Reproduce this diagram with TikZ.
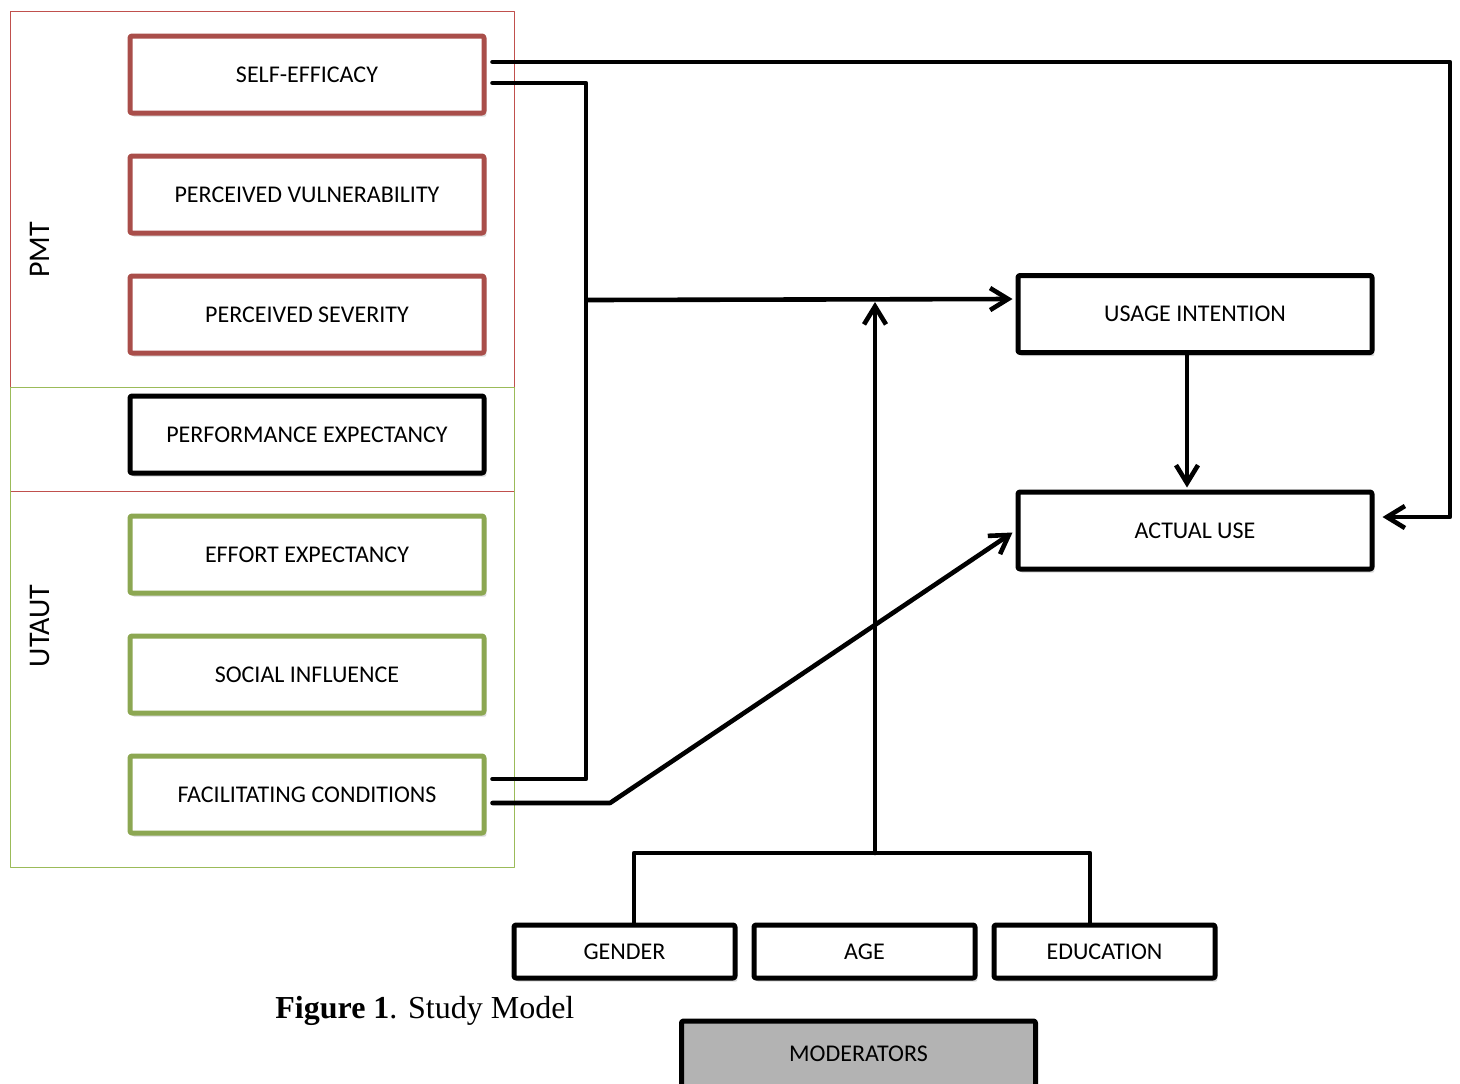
\documentclass[tikz,border=0pt]{standalone}
\usepackage{fontspec}
\setmainfont{Carlito}
\newfontfamily\capfont{Liberation Serif}
\usetikzlibrary{arrows.meta,shadows}
\definecolor{pmtred}{RGB}{169,78,74}
\definecolor{utgreen}{RGB}{140,167,82}
\definecolor{framered}{RGB}{192,80,77}
\definecolor{framegreen}{RGB}{155,187,89}
\definecolor{modgrey}{RGB}{179,179,179}
\begin{document}
\begin{tikzpicture}[x=0.5pt, y=-0.5pt, font=\fontsize{12}{14}\selectfont, line join=round, line cap=round, >={Straight Barb[length=9pt,width=11pt]},
	box/.style={draw, line width=2.5pt, fill=white, rounded corners=1pt, minimum width=177pt, minimum height=38.5pt, inner sep=0pt, drop shadow={shadow xshift=1.2pt, shadow yshift=-1.8pt, opacity=0.3}},
	modbox/.style={box, minimum width=110.5pt, minimum height=26.5pt},
	conn/.style={line width=2.3pt}]
				\useasboundingbox (0,0) rectangle (1460,1083);
				\clip (0,0) rectangle (1460,1083);
				% frames
				\draw[framered, line width=0.5pt] (10,11) rectangle (514,491);
				\draw[framegreen, line width=0.5pt] (10,387) rectangle (514,867);
				\node[rotate=90, font=\fontsize{15}{18}\selectfont] (pmt) at (40,250) {PMT};
				\node[rotate=90, font=\fontsize{15}{18}\selectfont] (utaut) at (40,626) {UTAUT};
				% constructs
				\foreach \n/\y/\c/\t in {se/74.5/pmtred/SELF-EFFICACY, pv/194.5/pmtred/PERCEIVED VULNERABILITY, ps/314.5/pmtred/PERCEIVED SEVERITY, pe/434.5/black/PERFORMANCE EXPECTANCY, ee/554.5/utgreen/EFFORT EXPECTANCY, si/674.5/utgreen/SOCIAL INFLUENCE, fc/794.5/utgreen/FACILITATING CONDITIONS}
					\node[box, draw=\c] (\n) at (307,\y) {\t};
				\node[box] (ui) at (1195,314) {USAGE INTENTION};
				\node[box] (au) at (1195,530.5) {ACTUAL USE};
				% moderators
				\node[modbox] (gen) at (624.5,951.5) {GENDER};
				\node[modbox] (age) at (864.5,951.5) {AGE};
				\node[modbox] (edu) at (1104.5,951.5) {EDUCATION};
				\node[box, fill=modgrey, minimum height=33pt] (mod) at (858.5,1054) {MODERATORS};
				\node[anchor=west, inner sep=0pt, font=\capfont\fontsize{16}{19}\selectfont] (cap) at (275,1011) {\textbf{Figure 1}. Study Model};
				% connectors
				\coordinate (tl) at (634,853); \coordinate (tr) at (1090,853); \coordinate (mt) at (875,853);
				\draw[conn,->] ([shift={(3pt,6.25pt)}]se.east) -| (1450,517) -- ([shift={(4pt,6.75pt)}]au.east);
				\draw[conn] ([shift={(3pt,-4.25pt)}]se.east) -| (586,779) -- ([shift={(3pt,7.75pt)}]fc.east);
				\draw[conn,->] (588,300) -- ([shift={(-1.5pt,7.5pt)}]ui.west);
				\draw[conn,->] ([shift={(3pt,-4.25pt)}]fc.east) -- (610,803) -- ([shift={(-1.5pt,-1pt)}]au.west);
				\draw[conn,->] ([xshift=-4pt]ui.south) -- ([shift={(-4pt,1pt)}]au.north);
				\draw[conn] ([xshift=4.75pt]gen.north) -- (tl) -- (tr) -- ([xshift=-7.25pt]edu.north);
				\draw[conn,->] (mt) -- (875,302);
	\end{tikzpicture}
\end{document}
